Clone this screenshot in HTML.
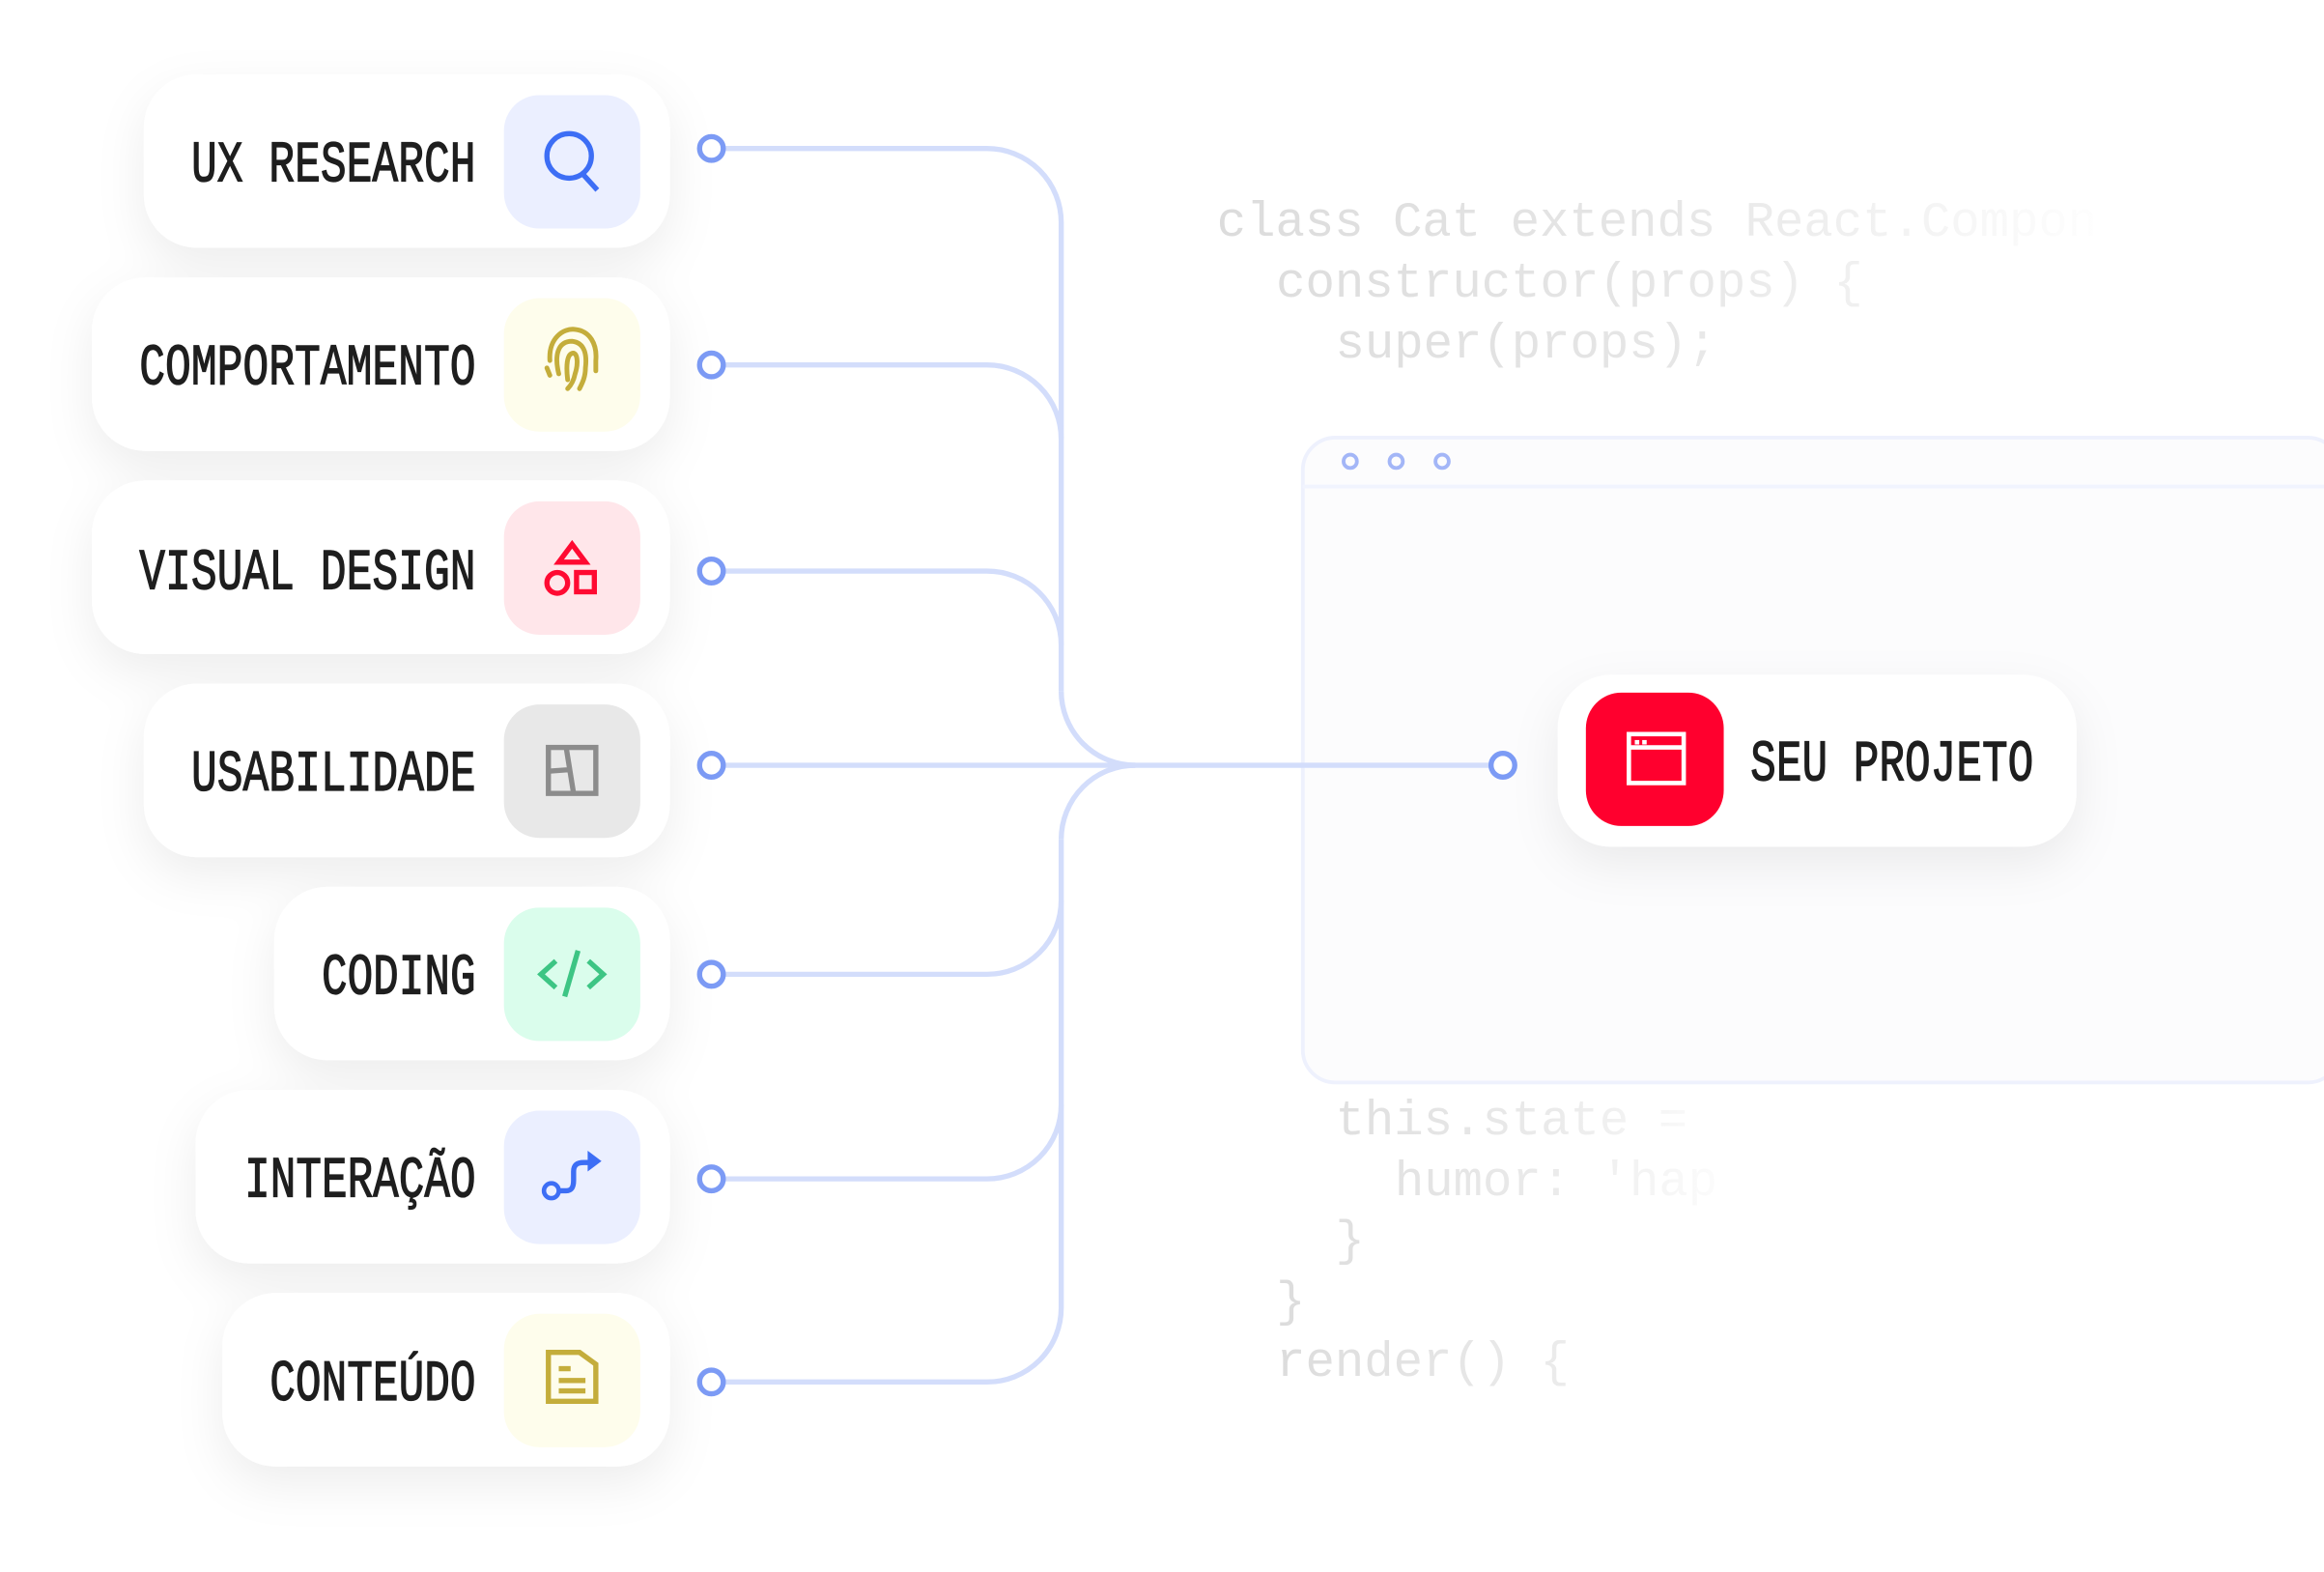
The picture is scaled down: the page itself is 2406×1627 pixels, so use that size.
<!DOCTYPE html>
<html><head><meta charset="utf-8"><style>
html,body{margin:0;padding:0;background:#fff;width:2406px;height:1627px;overflow:hidden}
svg{display:block}
.lb{font-family:"Liberation Mono",monospace;font-weight:normal;font-size:29px;fill:#1e1e1e;stroke:#1e1e1e;stroke-width:0.6}
.cd{font-family:"Liberation Mono",monospace;font-size:33px}
</style></head><body>
<svg width="2406" height="1627" viewBox="0 0 1568 1060" xmlns="http://www.w3.org/2000/svg">
<defs>
<filter id="sh" x="-30%" y="-40%" width="160%" height="200%"><feDropShadow dx="0" dy="12" stdDeviation="16" flood-color="#000" flood-opacity="0.07"/></filter>
<linearGradient id="g1" gradientUnits="userSpaceOnUse" x1="820" y1="0" x2="1430" y2="0"><stop offset="0" stop-color="#dcdcdc"/><stop offset="0.5" stop-color="#e6e6e6"/><stop offset="1" stop-color="#fff"/></linearGradient>
<linearGradient id="g2" gradientUnits="userSpaceOnUse" x1="860" y1="0" x2="1180" y2="0"><stop offset="0" stop-color="#dcdcdc"/><stop offset="0.6" stop-color="#ebebeb"/><stop offset="1" stop-color="#fff"/></linearGradient>
</defs>
<rect width="1568" height="1060" fill="#fff"/>
<g class="cd">
<text x="821" y="159" fill="url(#g1)">class Cat extends React.Compon</text>
<text x="861" y="200" fill="url(#g1)">constructor(props) {</text>
<text x="901" y="241" fill="url(#g1)">super(props);</text>
<text x="901" y="765" fill="url(#g2)">this.state =</text>
<text x="941" y="806" fill="url(#g2)">humor: 'hap</text>
<text x="901" y="846" fill="url(#g2)">}</text>
<text x="861" y="887" fill="url(#g2)">}</text>
<text x="861" y="928" fill="url(#g2)">render() {</text>
</g>
<rect x="879" y="295" width="700" height="435" rx="22" fill="#fcfcfd" fill-opacity="0.85" stroke="#eef1fd" stroke-width="2.5"/>
<line x1="879" y1="328" x2="1568" y2="328" stroke="#f1f4fe" stroke-width="2.5"/>
<g fill="none" stroke="#a3b6f7" stroke-width="2.5"><circle cx="911" cy="311" r="4.5"/><circle cx="942" cy="311" r="4.5"/><circle cx="973" cy="311" r="4.5"/></g>
<g fill="none" stroke="#d3ddfb" stroke-width="3.5">
<path d="M488,100 H666 A50,50 0 0 1 716,150 V466"/>
<path d="M488,246 H666 A50,50 0 0 1 716,296"/>
<path d="M488,385 H666 A50,50 0 0 1 716,435"/>
<path d="M716,466 A50,50 0 0 0 766,516"/>
<path d="M716,566 A50,50 0 0 1 766,516"/>
<path d="M488,516 H1006"/>
<path d="M488,657 H666 A50,50 0 0 0 716,607"/>
<path d="M488,795 H666 A50,50 0 0 0 716,745"/>
<path d="M488,932 H666 A50,50 0 0 0 716,882 V566"/>
</g>
<g fill="#fff" stroke="#7c9bf5" stroke-width="3.5">
<circle cx="480" cy="100" r="8"/><circle cx="480" cy="246" r="8"/><circle cx="480" cy="385" r="8"/><circle cx="480" cy="516" r="8"/><circle cx="480" cy="657" r="8"/><circle cx="480" cy="795" r="8"/><circle cx="480" cy="932" r="8"/><circle cx="1014" cy="516" r="8"/>
</g>
<g filter="url(#sh)" fill="#fff">
<rect x="97" y="50" width="355" height="117" rx="36"/>
<rect x="62" y="187" width="390" height="117" rx="36"/>
<rect x="62" y="324" width="390" height="117" rx="36"/>
<rect x="97" y="461" width="355" height="117" rx="36"/>
<rect x="185" y="598" width="267" height="117" rx="36"/>
<rect x="132" y="735" width="320" height="117" rx="36"/>
<rect x="150" y="872" width="302" height="117" rx="36"/>
<rect x="1051" y="455" width="350" height="116" rx="36"/>
</g>
<rect x="340" y="64" width="92" height="90" rx="24" fill="#ebefff"/>
<rect x="340" y="201" width="92" height="90" rx="24" fill="#fefdec"/>
<rect x="340" y="338" width="92" height="90" rx="24" fill="#ffe6ea"/>
<rect x="340" y="475" width="92" height="90" rx="24" fill="#e8e8e8"/>
<rect x="340" y="612" width="92" height="90" rx="24" fill="#dafdec"/>
<rect x="340" y="749" width="92" height="90" rx="24" fill="#ebefff"/>
<rect x="340" y="886" width="92" height="90" rx="24" fill="#fefdec"/>
<rect x="1070" y="467" width="93" height="90" rx="24" fill="#ff002e"/>
<g fill="none" stroke="#3d6ef5" stroke-width="3.5"><circle cx="384" cy="105" r="15"/><line x1="393" y1="117" x2="403" y2="128"/></g>
<g fill="none" stroke="#c4ad3b" stroke-width="3.2" stroke-linecap="round">
<path d="M371,243 C370,228 380,221 388,222 C398,223 403,232 402,243 V250"/>
<path d="M377,252 C374,240 376,230 386,230 C395,231 396,240 395,248 C395,254 393,258 391,262"/>
<path d="M383,256 C382,248 382,238 387,238 C390,239 390,246 388,252 C387,257 385,260 383,262"/>
<path d="M369,248 L371,253"/>
</g>
<g fill="none" stroke="#ff0a32" stroke-width="3.5"><path d="M386,367 L395,379 H377 Z"/><circle cx="376" cy="393" r="7"/><rect x="389" y="386" width="12" height="13"/></g>
<g fill="none" stroke="#8c8c8c" stroke-width="3.5"><rect x="370" y="504" width="32" height="31"/><path d="M370,520 L384,519 M382,504 L387,535"/></g>
<g fill="none" stroke="#3dc584" stroke-width="3.5"><path d="M375,648 L365,657 L375,666 M397,648 L407,657 L397,666 M390,641 L381,672"/></g>
<g fill="#3d6ef5" stroke="#3d6ef5"><path d="M372,803 H382 C386,803 387,800 387,796 V790 C387,786 389,784 394,784 H398" fill="none" stroke-width="3.5"/><circle cx="372" cy="803" r="5" fill="#ebefff" stroke-width="3"/><path d="M397,777 L405,783 L397,789 Z"/></g>
<g fill="none" stroke="#c4ad3b" stroke-width="3.5"><path d="M370,912 H391 L402,920 V945 H370 Z"/><path d="M377,923 H385 M377,931 H395 M377,938 H395"/></g>
<g fill="none" stroke="#fff" stroke-width="3"><rect x="1099" y="495" width="37" height="33"/><line x1="1099" y1="504" x2="1136" y2="504"/></g>
<g fill="#fff"><rect x="1103" y="499" width="3" height="3"/><rect x="1108" y="499" width="3" height="3"/></g>
<g class="lb" text-anchor="end">
<text transform="translate(321,122) scale(1,1.35)" textLength="192" lengthAdjust="spacingAndGlyphs">UX RESEARCH</text>
<text transform="translate(321,259) scale(1,1.35)" textLength="227" lengthAdjust="spacingAndGlyphs">COMPORTAMENTO</text>
<text transform="translate(321,397) scale(1,1.35)" textLength="227" lengthAdjust="spacingAndGlyphs">VISUAL DESIGN</text>
<text transform="translate(321,533) scale(1,1.35)" textLength="192" lengthAdjust="spacingAndGlyphs">USABILIDADE</text>
<text transform="translate(321,670) scale(1,1.35)" textLength="104" lengthAdjust="spacingAndGlyphs">CODING</text>
<text transform="translate(321,807) scale(1,1.35)" textLength="156" lengthAdjust="spacingAndGlyphs">INTERAÇÃO</text>
<text transform="translate(321,944) scale(1,1.35)" textLength="139" lengthAdjust="spacingAndGlyphs">CONTEÚDO</text>
</g>
<text class="lb" transform="translate(1181,526) scale(1,1.35)" textLength="191" lengthAdjust="spacingAndGlyphs">SEU PROJETO</text>
</svg>
</body></html>
